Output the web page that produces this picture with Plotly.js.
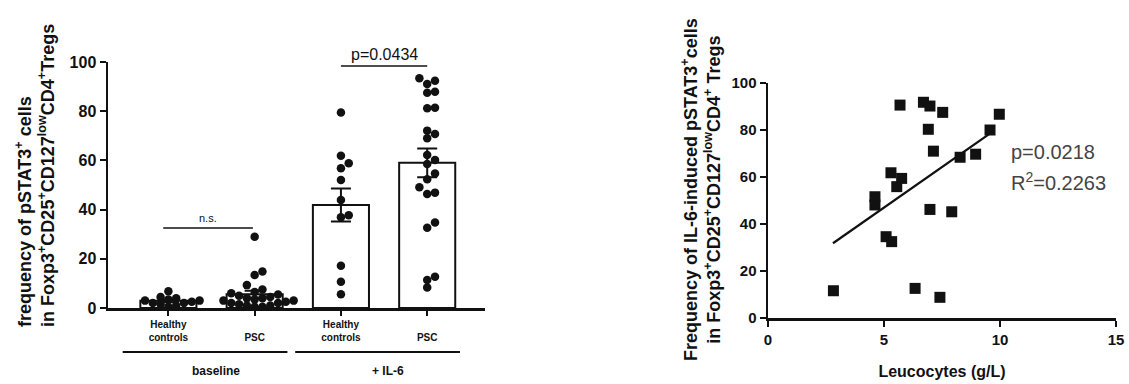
<!DOCTYPE html>
<html>
<head>
<meta charset="utf-8">
<script src="https://cdn.plot.ly/plotly-3.0.1.min.js"></script>
<style>html,body{margin:0;padding:0;background:#fff;}#chart{width:1129px;height:384px;}</style>
</head>
<body>
<div id="chart"></div>
<script>
// ---------- data (left panel) ----------
const categories = ['Healthy<br>controls', '\u00a0<br>PSC', 'Healthy<br>controls', '\u00a0<br>PSC'];
const groupLabels = ['baseline', '+ IL-6'];
const barMeans = [2.9, 5.6, 41.9, 59.0];
const barSEM = [0.6, 1.4, 6.7, 5.8];
const hcBaseline = [6.8, 4.5, 4.0, 3.5, 3.0, 3.0, 2.5, 2.0, 2.0, 1.5, 1.0, 0.5];
const pscBaseline = [29.0, 14.8, 13.4, 9.3, 7.5, 6.5, 6.0, 5.5, 5.0, 4.5, 4.0, 4.0, 3.5, 3.0, 3.0, 2.5, 2.0, 2.0, 1.5, 1.0, 1.0, 0.5, 0.5];
const hcIL6 = [79.5, 61.9, 58.8, 56.8, 52.0, 43.9, 37.7, 36.9, 17.2, 10.7, 5.6];
const pscIL6 = [93.4, 92.4, 91.1, 87.9, 87.5, 81.4, 81.2, 72.1, 70.7, 69.0, 62.2, 60.2, 58.5, 54.7, 52.3, 49.1, 46.9, 46.3, 34.8, 32.6, 12.7, 11.4, 8.3];
const sigLabels = ['n.s.', 'p=0.0434'];

// ---------- data (right panel) ----------
const leucocytes = [5.69, 6.70, 6.98, 7.53, 6.91, 9.97, 9.57, 7.13, 8.28, 8.95, 5.30, 5.76, 5.55, 4.61, 4.61, 6.98, 7.92, 5.09, 5.33, 2.82, 6.34, 7.41];
const pstat3IL6 = [90.6, 91.8, 90.2, 87.5, 80.3, 86.7, 80.0, 71.0, 68.4, 69.7, 61.8, 59.4, 55.9, 51.6, 48.1, 46.2, 45.2, 34.6, 32.5, 11.6, 12.6, 8.8];
const fitX = [2.8, 9.7];
const fitY = [31.8, 79.4];
const statsText = ['p=0.0218', 'R<sup>2</sup>=0.2263'];

// ---------- layout geometry ----------
const W = 1129, H = 384;
const L = {x0: 108, x1: 485, y0: 308, y1: 62, xr: [-0.7, 3.67], yr: [0, 100]};
const R = {x0: 768, x1: 1116, y0: 318, y1: 83, xr: [0, 15], yr: [0, 100]};
const pxPerX = (L.x1 - L.x0) / (L.xr[1] - L.xr[0]);
const pxPerY = (L.y0 - L.y1) / (L.yr[1] - L.yr[0]);
const dotPx = 7.8;

function swarm(values, center) {
  const placed = [];
  const xs = new Array(values.length);
  const order = values.map((v, i) => i).sort((a, b) => values[a] - values[b]);
  for (const i of order) {
    const yp = values[i] * pxPerY;
    const cands = [0];
    for (let k = 1; k < 20; k++) { cands.push(k, -k); }
    for (const c of cands) {
      const xp = c * dotPx;
      let ok = true;
      for (const p of placed) {
        const dx = xp - p.x, dy = yp - p.y;
        if (dx * dx + dy * dy < dotPx * dotPx * 0.8) { ok = false; break; }
      }
      if (ok) { placed.push({x: xp, y: yp}); xs[i] = center + xp / pxPerX; break; }
    }
  }
  return xs;
}

const groups = [hcBaseline, pscBaseline, hcIL6, pscIL6];
const dotX = [], dotY = [];
groups.forEach((g, gi) => { const xs = swarm(g, gi); xs.forEach((x, j) => { dotX.push(x); dotY.push(g[j]); }); });

const FONT = 'Arial, "Liberation Sans", sans-serif';
const bold = (size, color) => ({family: FONT, size: size, color: color || '#111', weight: 'bold'});

const traces = [
  {type: 'bar', x: [0, 1, 2, 3], y: barMeans, width: 0.65, xaxis: 'x', yaxis: 'y',
   marker: {color: '#fff', line: {color: '#111', width: 2}},
   error_y: {type: 'data', array: barSEM, visible: true, color: '#111', thickness: 2, width: 10},
   showlegend: false, hoverinfo: 'skip'},
  {type: 'scatter', mode: 'markers', x: dotX, y: dotY, xaxis: 'x', yaxis: 'y',
   marker: {symbol: 'circle', size: 8.5, color: '#111'}, cliponaxis: false, showlegend: false},
  {type: 'scatter', mode: 'markers', x: leucocytes, y: pstat3IL6, xaxis: 'x2', yaxis: 'y2',
   marker: {symbol: 'square', size: 11, color: '#111'}, cliponaxis: false, showlegend: false},
  {type: 'scatter', mode: 'lines', x: fitX, y: fitY, xaxis: 'x2', yaxis: 'y2',
   line: {color: '#111', width: 2.2}, showlegend: false}
];

const axisBase = {showgrid: false, zeroline: false, showline: true, linecolor: '#111', linewidth: 2.5,
  ticks: 'outside', tickcolor: '#111', tickwidth: 2, fixedrange: true};

const groupIdx = [[0, 1], [2, 3]];
const shapes = [], annotations = [];
groupIdx.forEach((gi, k) => {
  shapes.push({type: 'line', xref: 'x', yref: 'paper', x0: gi[0] - 0.53, x1: gi[1] + 0.38,
    y0: 1 - 352 / H, y1: 1 - 352 / H, line: {color: '#111', width: 2}});
  annotations.push({text: groupLabels[k], xref: 'x', yref: 'paper', x: (gi[0] + gi[1]) / 2 + 0.05, y: 1 - 371 / H,
    showarrow: false, xanchor: 'center', yanchor: 'middle', font: bold(12)});
});
// significance bars
shapes.push({type: 'line', xref: 'x', yref: 'y', x0: -0.06, x1: 0.98, y0: 32.5, y1: 32.5, line: {color: '#111', width: 1.5}});
annotations.push({text: sigLabels[0], xref: 'x', yref: 'y', x: 0.46, y: 33.5, showarrow: false, yanchor: 'bottom', font: {family: FONT, size: 11, color: '#111'}});
shapes.push({type: 'line', xref: 'x', yref: 'y', x0: 2.0, x1: 3.0, y0: 98.4, y1: 98.4, line: {color: '#111', width: 1.5}});
annotations.push({text: sigLabels[1], xref: 'x', yref: 'y', x: 2.5, y: 98.6, showarrow: false, yanchor: 'bottom', font: {family: FONT, size: 16, color: '#111'}});
// y titles
annotations.push({text: 'frequency of pSTAT3<sup>+</sup> cells<br>in Foxp3<sup>+</sup>CD25<sup>+</sup>CD127<sup>low</sup>CD4<sup>+</sup>Tregs',
  xref: 'paper', yref: 'paper', x: 35 / W, y: 1 - 176 / H, textangle: -90, align: 'left', showarrow: false,
  xanchor: 'center', yanchor: 'middle', font: bold(18)});
annotations.push({text: 'Frequency of IL-6-induced pSTAT3<sup>+</sup>cells<br>in Foxp3<sup>+</sup>CD25<sup>+</sup>CD127<sup>low</sup>CD4<sup>+</sup> Tregs',
  xref: 'paper', yref: 'paper', x: 701 / W, y: 1 - 190 / H, textangle: -90, align: 'center', showarrow: false,
  xanchor: 'center', yanchor: 'middle', font: bold(18)});
// stats text
annotations.push({text: statsText[0], xref: 'x2', yref: 'y2', x: 10.4, y: 70.6, xanchor: 'left', yanchor: 'middle', showarrow: false, font: {family: FONT, size: 20, color: '#444'}});
annotations.push({text: statsText[1], xref: 'x2', yref: 'y2', x: 10.4, y: 57.9, xanchor: 'left', yanchor: 'middle', showarrow: false, font: {family: FONT, size: 20, color: '#444'}});

const layout = {
  width: W, height: H, margin: {l: 0, r: 0, t: 0, b: 0}, paper_bgcolor: '#fff', plot_bgcolor: 'rgba(0,0,0,0)',
  showlegend: false, bargap: 0,
  xaxis: Object.assign({}, axisBase, {domain: [L.x0 / W, L.x1 / W], range: L.xr, anchor: 'y',
    tickmode: 'array', tickvals: [0, 1, 2, 3], ticktext: categories, ticklen: 5, tickfont: bold(10)}),
  yaxis: Object.assign({}, axisBase, {domain: [1 - L.y0 / H, 1 - L.y1 / H], range: L.yr, anchor: 'x',
    dtick: 20, tick0: 0, ticklen: 6, tickfont: bold(16)}),
  xaxis2: Object.assign({}, axisBase, {domain: [R.x0 / W, R.x1 / W], range: R.xr, anchor: 'y2',
    dtick: 5, tick0: 0, ticklen: 6, tickfont: bold(15),
    title: {text: 'Leucocytes (g/L)', font: bold(16), standoff: 20}}),
  yaxis2: Object.assign({}, axisBase, {domain: [1 - R.y0 / H, 1 - R.y1 / H], range: R.yr, anchor: 'x2',
    dtick: 20, tick0: 0, ticklen: 6, tickfont: bold(15)}),
  shapes: shapes, annotations: annotations
};

Plotly.newPlot('chart', traces, layout, {displayModeBar: false, staticPlot: true});
</script>
</body>
</html>
